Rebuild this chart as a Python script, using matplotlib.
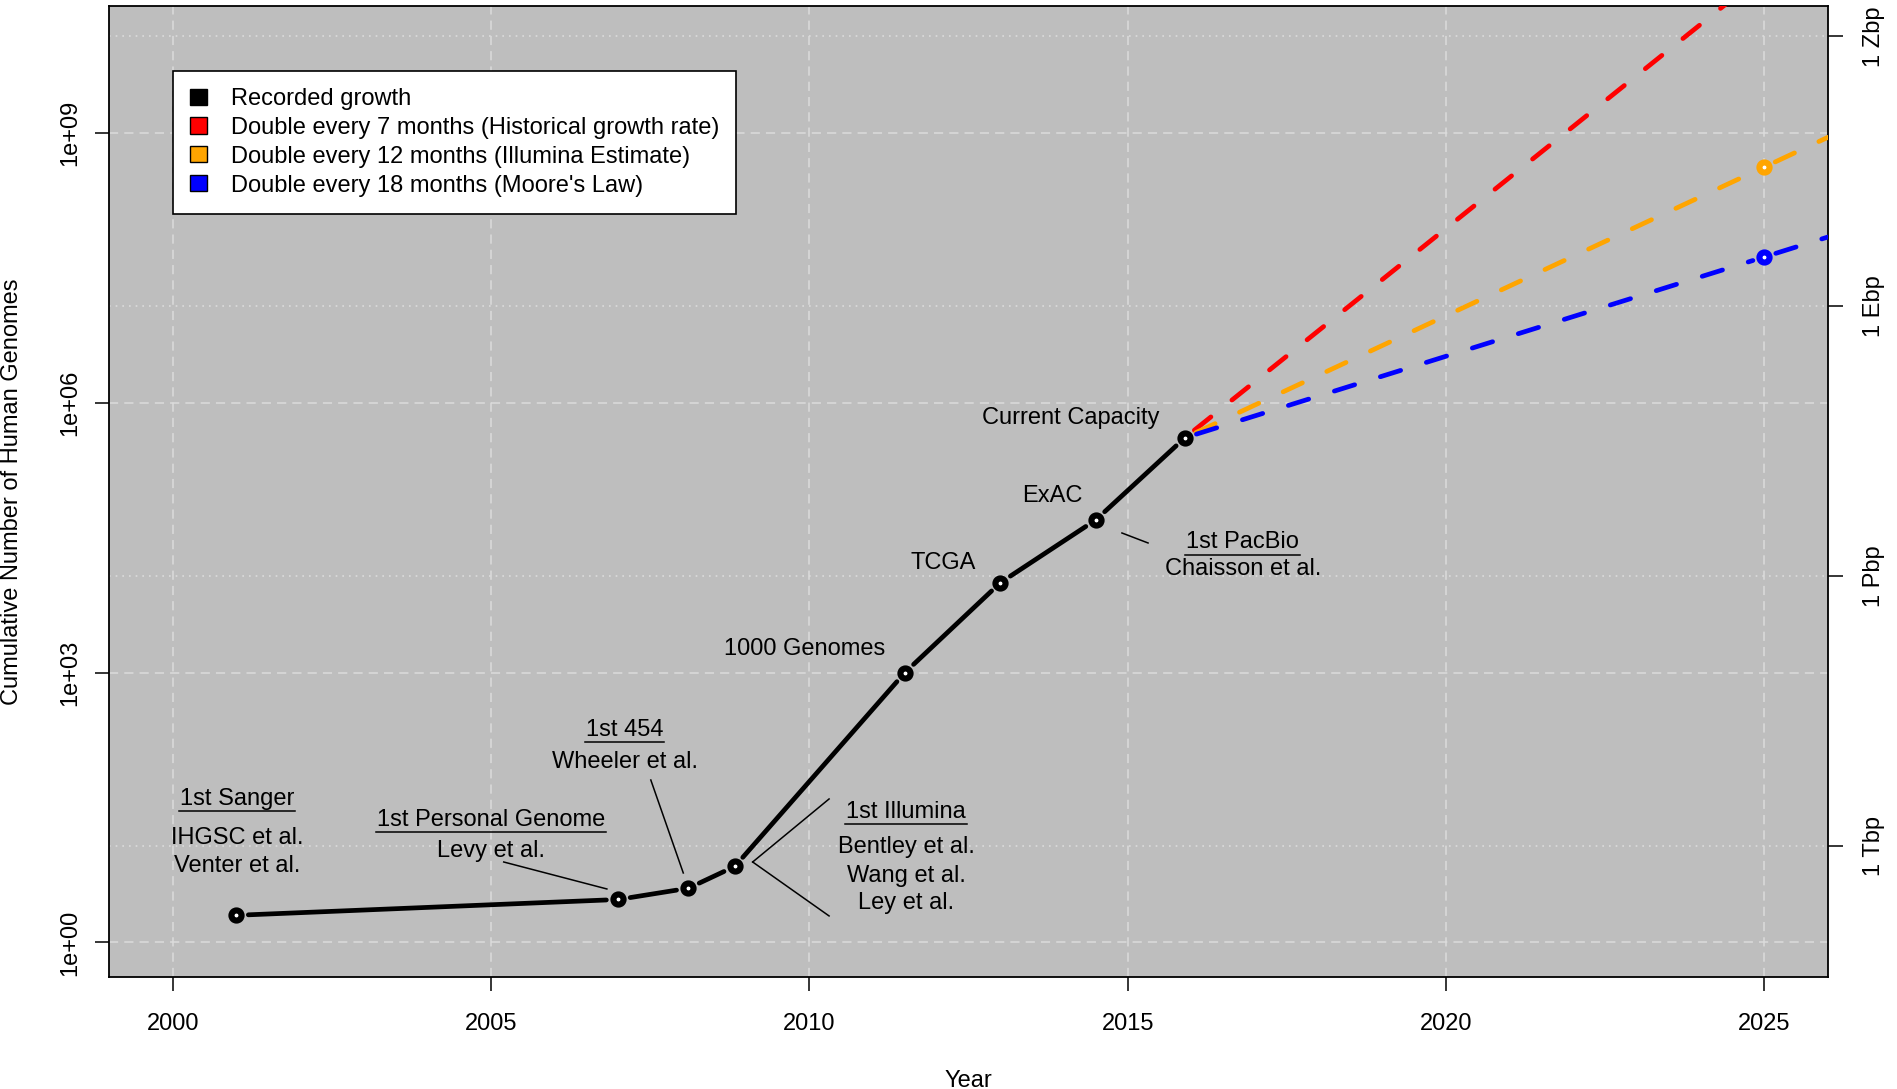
import numpy as np
import matplotlib
matplotlib.use("Agg")
import matplotlib.pyplot as plt
from matplotlib.patches import Patch
from matplotlib.ticker import NullLocator

plt.rcParams['font.family'] = ['Liberation Sans', 'DejaVu Sans']

# Recorded cumulative number of sequenced human genomes
years = [2001.0, 2007.0, 2008.1, 2008.83, 2011.5, 2013.0, 2014.5, 2015.9]
genomes = [2, 3, 4, 7, 1000, 10000, 50000, 4.1e5]

# Projected growth from current capacity (start, 2025, right edge)
proj_years = [2015.9, 2025.0, 2026.0]
proj_7mo = [4.1e5, 6.0e10, 2.2e11]
proj_12mo = [4.1e5, 4.2e8, 9.0e8]
proj_18mo = [4.1e5, 4.2e7, 7.0e7]

legend_labels = ["Recorded growth",
                 "Double every 7 months (Historical growth rate)",
                 "Double every 12 months (Illumina Estimate)",
                 "Double every 18 months (Moore's Law)"]
legend_colors = ["black", "red", "orange", "blue"]

x_ticks = [2000, 2005, 2010, 2015, 2020, 2025]
y_ticks = [1e0, 1e3, 1e6, 1e9]
y_ticklabels = ["1e+00", "1e+03", "1e+06", "1e+09"]
bp_ticks = [1e12, 1e15, 1e18, 1e21]
bp_ticklabels = ["1 Tbp", "1 Pbp", "1 Ebp", "1 Zbp"]
BP_PER_GENOME = 2.8e9 * 30  # 30x coverage of a 2.8 Gbp genome

# Milestone labels: (text, x, y, underlined)
labels = [
    ("1st Sanger", 2001.01, 10 ** 1.528, True),
    ("IHGSC et al.", 2001.01, 10 ** 1.094, False),
    ("Venter et al.", 2001.01, 10 ** 0.780, False),
    ("1st Personal Genome", 2005.0, 10 ** 1.298, True),
    ("Levy et al.", 2005.0, 10 ** 0.953, False),
    ("1st 454", 2007.10, 10 ** 2.299, True),
    ("Wheeler et al.", 2007.10, 10 ** 1.936, False),
    ("1st Illumina", 2011.52, 10 ** 1.387, True),
    ("Bentley et al.", 2011.52, 10 ** 0.991, False),
    ("Wang et al.", 2011.52, 10 ** 0.675, False),
    ("Ley et al.", 2011.52, 10 ** 0.368, False),
    ("1000 Genomes", 2009.92, 10 ** 3.196, False),
    ("TCGA", 2012.11, 10 ** 4.156, False),
    ("ExAC", 2013.81, 10 ** 4.901, False),
    ("Current Capacity", 2014.11, 10 ** 5.762, False),
    ("1st PacBio", 2016.81, 10 ** 4.383, True),
    ("Chaisson et al.", 2016.81, 10 ** 4.086, False),
]

# Pointer segments from labels to milestones: (x0, y0, x1, y1)
pointers = [
    (2005.20, 10 ** 0.894, 2006.82, 10 ** 0.594),
    (2007.51, 10 ** 1.806, 2008.02, 10 ** 0.772),
    (2010.31, 10 ** 1.595, 2009.11, 10 ** 0.894),
    (2009.11, 10 ** 0.894, 2010.31, 10 ** 0.294),
    (2014.91, 10 ** 4.553, 2015.32, 10 ** 4.442),
]

FS = 17
BG = "#BEBEBE"
GRID = "#DCDCDC"
LW = 3.4
GAP_PX = 12.0

fig = plt.figure(figsize=(18.97, 10.89), dpi=100)
ax = fig.add_axes([0.05746, 0.10285, 0.90617, 0.89164])
ax.set_facecolor(BG)
ax.set_yscale("log")
ax.set_xlim(1999.0, 2026.0)
ax.set_ylim(10 ** -0.385, 10 ** 10.414)

# Grid: dashed at genome ticks / years, dotted at base-pair ticks
for xv in x_ticks:
    ax.axvline(xv, color=GRID, lw=1.1, ls=(0, (6, 4)), zorder=0.5)
for yv in y_ticks:
    ax.axhline(yv, color=GRID, lw=1.1, ls=(0, (6, 4)), zorder=0.5)
for bv in bp_ticks:
    ax.axhline(bv / BP_PER_GENOME, color=GRID, lw=1.2, ls=(0, (1, 3)), zorder=0.5)


def draw_joined(xs, ys, marked, **kw):
    """Draw point-to-point segments leaving a gap around marked points."""
    pts = ax.transData.transform(np.column_stack([xs, ys]))
    inv = ax.transData.inverted()
    for i in range(len(pts) - 1):
        p0, p1 = pts[i], pts[i + 1]
        d = p1 - p0
        L = np.hypot(*d)
        u = d / L
        a = p0 + u * GAP_PX if marked[i] else p0
        b = p1 - u * GAP_PX if marked[i + 1] else p1
        if np.dot(b - a, d) <= 0:
            continue
        seg = inv.transform(np.vstack([a, b]))
        ax.plot(seg[:, 0], seg[:, 1], **kw)


dash = (0, (4.5, 5.7))
proj_marked = [True, True, False]
draw_joined(proj_years, proj_7mo, proj_marked, color="red", lw=LW, ls=dash,
            dash_capstyle="round", zorder=3)
draw_joined(proj_years, proj_12mo, proj_marked, color="orange", lw=LW, ls=dash,
            dash_capstyle="round", zorder=3)
draw_joined(proj_years, proj_18mo, proj_marked, color="blue", lw=LW, ls=dash,
            dash_capstyle="round", zorder=3)
draw_joined(years, genomes, [True] * len(years), color="black", lw=LW,
            solid_capstyle="round", zorder=4)

mk = dict(marker="o", ls="none", ms=7.3, mew=4.4, mfc="white", zorder=5)
ax.plot(years, genomes, mec="black", **mk)
ax.plot(proj_years[1:2], proj_7mo[1:2], mec="red", **mk)
ax.plot(proj_years[1:2], proj_12mo[1:2], mec="orange", **mk)
ax.plot(proj_years[1:2], proj_18mo[1:2], mec="blue", **mk)

for x0, y0, x1, y1 in pointers:
    ax.plot([x0, x1], [y0, y1], color="black", lw=1.1, zorder=3)

texts = []
for s, x, y, ul in labels:
    t = ax.text(x, y, s, ha="center", va="baseline", fontsize=FS, zorder=6)
    texts.append((t, x, y, ul))

# Axes, ticks and labels
ax.set_xticks(x_ticks)
ax.set_xticklabels([str(v) for v in x_ticks])
ax.set_yticks(y_ticks)
ax.set_yticklabels(y_ticklabels)
ax.yaxis.set_minor_locator(NullLocator())
ax.tick_params(axis="x", length=10, width=1.1, pad=16, labelsize=FS)
ax.tick_params(axis="y", length=10, width=1.1, pad=10, labelsize=FS)
for lab in ax.get_yticklabels():
    lab.set_rotation(90)
    lab.set_verticalalignment("center")

sec = ax.secondary_yaxis("right", functions=(lambda g: g * BP_PER_GENOME,
                                             lambda b: b / BP_PER_GENOME))
sec.set_yticks(bp_ticks)
sec.set_yticklabels(bp_ticklabels)
sec.yaxis.set_minor_locator(NullLocator())
sec.tick_params(axis="y", length=11, width=1.1, pad=14, labelsize=FS)
for lab in sec.get_yticklabels():
    lab.set_rotation(90)
    lab.set_verticalalignment("center")
sec.spines["right"].set_visible(False)

for sp in ax.spines.values():
    sp.set_color("black")
    sp.set_linewidth(1.3)

ax.set_xlabel("Year", fontsize=FS)
ax.xaxis.set_label_coords(0.5, -0.107)
ax.xaxis.label.set_verticalalignment("center")
ax.set_ylabel("Cumulative Number of Human Genomes", fontsize=FS)
ax.yaxis.set_label_coords(-0.0564, 0.5)
ax.yaxis.label.set_verticalalignment("center")

handles = [Patch(facecolor=c, edgecolor="black", linewidth=1.0) for c in legend_colors]
leg = ax.legend(handles, legend_labels, loc="upper left",
                bbox_to_anchor=(0.0372, 0.9331), borderaxespad=0,
                fontsize=FS, frameon=True, fancybox=False, framealpha=1,
                edgecolor="black", borderpad=0.72, labelspacing=0.29,
                handlelength=0.72, handleheight=0.68, handletextpad=1.0)
leg.get_frame().set_linewidth(1.2)
leg.set_zorder(7)

# Underline the milestone headings
fig.canvas.draw()
renderer = fig.canvas.get_renderer()
inv = ax.transData.inverted()
for t, x, y, ul in texts:
    if not ul:
        continue
    bb = t.get_window_extent(renderer)
    yb = ax.transData.transform((x, y))[1] - 6.5
    seg = inv.transform([(bb.x0 - 1, yb), (bb.x1 + 1, yb)])
    ax.plot(seg[:, 0], seg[:, 1], color="black", lw=1.1, zorder=6)

fig.savefig("out.png", dpi=100, facecolor="white")
